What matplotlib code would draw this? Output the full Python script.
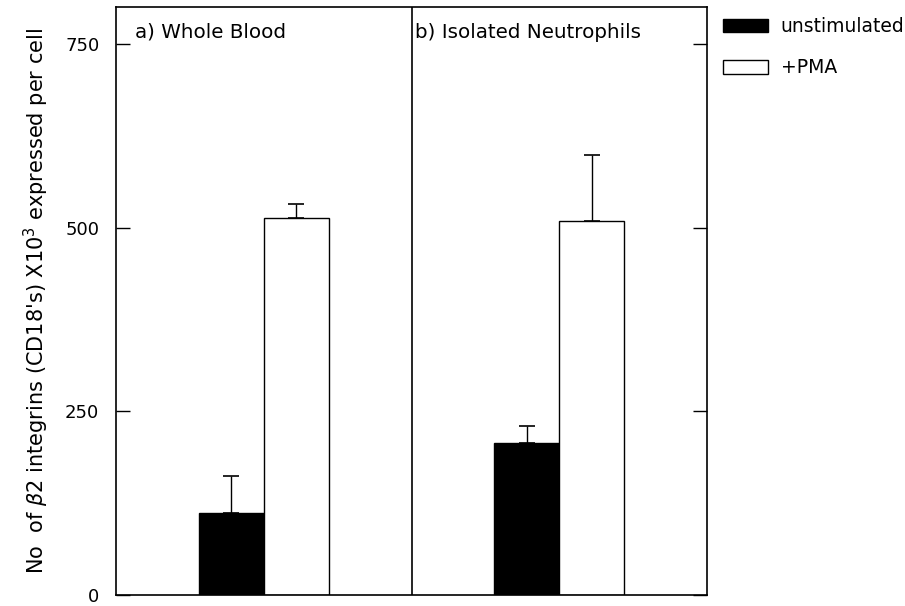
import matplotlib
matplotlib.use("Agg")
import matplotlib.pyplot as plt
from matplotlib.patches import Patch
import numpy as np

# data
panels = ["a) Whole Blood", "b) Isolated Neutrophils"]
unstim = [111, 207]
unstim_err = [51, 23]
pma = [513, 509]
pma_err = [19, 89]
yticks = [0, 250, 500, 750]

plt.rcParams['font.family'] = ['DejaVu Sans']
plt.rcParams['font.size'] = 13

fig = plt.figure(figsize=(9.05, 6.06), dpi=100)
ax = fig.add_axes([0.1282, 0.0182, 0.653, 0.9702])

centers = np.array([0.5, 1.5])
w = 0.22

ax.bar(centers - w / 2, unstim, width=w, color='black', edgecolor='black', linewidth=1.0)
ax.bar(centers + w / 2, pma, width=w, color='white', edgecolor='black', linewidth=1.0)

# upper error bars only
ax.errorbar(centers - w / 2, unstim, yerr=[np.zeros(2), unstim_err], fmt='none',
            ecolor='black', elinewidth=1.0, capsize=6, capthick=1.2)
ax.errorbar(centers + w / 2, pma, yerr=[np.zeros(2), pma_err], fmt='none',
            ecolor='black', elinewidth=1.0, capsize=6, capthick=1.2)

# panel divider
ax.axvline(1.0, color='black', lw=1.2)

ax.set_xlim(0, 2)
ax.set_ylim(0, 800)
ax.set_xticks([])
ax.set_yticks(yticks)
ax.tick_params(axis='y', direction='in', length=10, width=1.0, right=True, labelsize=13, pad=12)
for s in ax.spines.values():
    s.set_linewidth(1.2)

ax.text(0.064, 766, panels[0], ha='left', va='center', fontsize=14.3)
ax.text(1.012, 766, panels[1], ha='left', va='center', fontsize=14.3)

ax.set_ylabel(r"No  of $\beta$2 integrins (CD18's) X10$^{3}$ expressed per cell",
              fontsize=15, labelpad=10)

handles = [Patch(facecolor='black', edgecolor='black', label='unstimulated'),
           Patch(facecolor='white', edgecolor='black', label='+PMA')]
fig.legend(handles=handles, loc='upper left', bbox_to_anchor=(0.799, 0.972), frameon=False,
           handlelength=2.4, handleheight=0.72, handletextpad=0.67, labelspacing=1.2,
           borderpad=0, borderaxespad=0, fontsize=13.5)

fig.savefig("out.png", dpi=100)
